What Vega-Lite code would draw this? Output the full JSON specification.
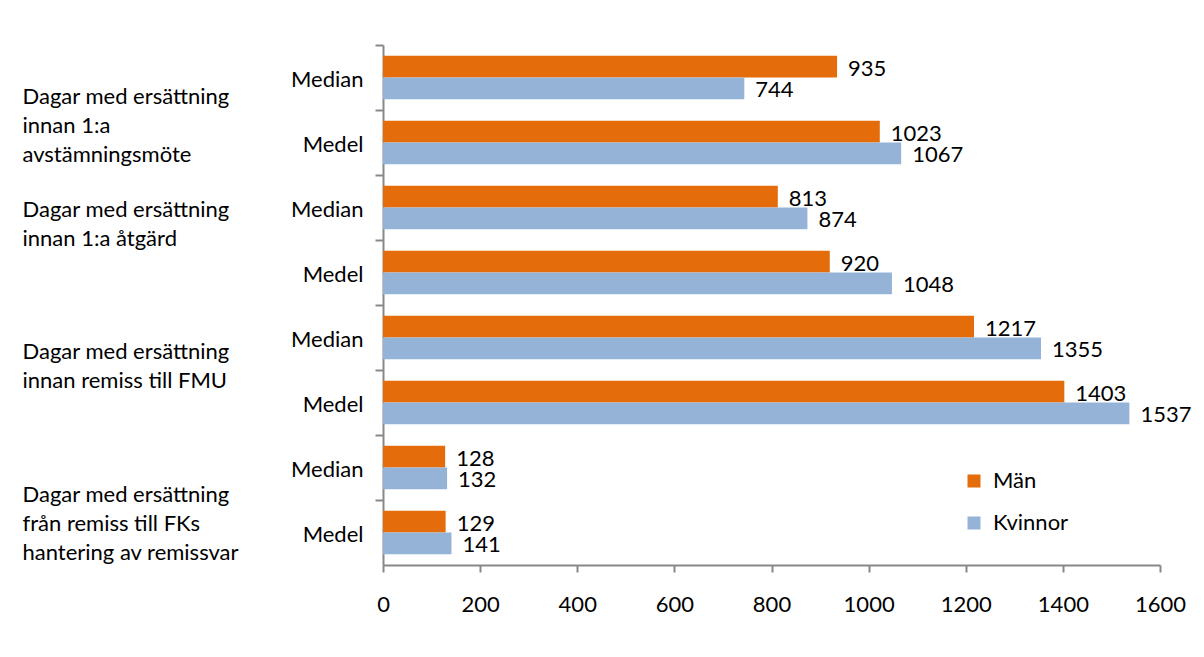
{
  "$schema": "https://vega.github.io/schema/vega-lite/v6.json",
  "width": 777,
  "height": 520,
  "autosize": {"type": "none"},
  "padding": {"left": 383, "top": 45, "right": 44, "bottom": 92},
  "background": "white",
  "config": {
    "view": {"stroke": null},
    "font": "Lato",
    "axis": {"labelFont": "Lato", "labelFontSize": 22, "labelColor": "#000000", "title": null, "grid": false},
    "legend": {
      "orient": "none",
      "legendX": 580,
      "legendY": 425,
      "padding": 0,
      "title": null,
      "symbolType": "square",
      "symbolSize": 169,
      "symbolStrokeWidth": 0,
      "labelFont": "Lato",
      "labelFontSize": 22,
      "labelColor": "#000000",
      "labelOffset": 8,
      "rowPadding": 20
    }
  },
  "data": {
    "values": [
      {"grp": "Dagar med ersättning|innan 1:a|avstämningsmöte", "row": "1 Median", "serie": "Män", "value": 935},
      {"grp": "Dagar med ersättning|innan 1:a|avstämningsmöte", "row": "1 Median", "serie": "Kvinnor", "value": 744},
      {"grp": "Dagar med ersättning|innan 1:a|avstämningsmöte", "row": "2 Medel", "serie": "Män", "value": 1023},
      {"grp": "Dagar med ersättning|innan 1:a|avstämningsmöte", "row": "2 Medel", "serie": "Kvinnor", "value": 1067},
      {"grp": "Dagar med ersättning|innan 1:a åtgärd", "row": "3 Median", "serie": "Män", "value": 813},
      {"grp": "Dagar med ersättning|innan 1:a åtgärd", "row": "3 Median", "serie": "Kvinnor", "value": 874},
      {"grp": "Dagar med ersättning|innan 1:a åtgärd", "row": "4 Medel", "serie": "Män", "value": 920},
      {"grp": "Dagar med ersättning|innan 1:a åtgärd", "row": "4 Medel", "serie": "Kvinnor", "value": 1048},
      {"grp": "Dagar med ersättning|innan remiss till FMU", "row": "5 Median", "serie": "Män", "value": 1217},
      {"grp": "Dagar med ersättning|innan remiss till FMU", "row": "5 Median", "serie": "Kvinnor", "value": 1355},
      {"grp": "Dagar med ersättning|innan remiss till FMU", "row": "6 Medel", "serie": "Män", "value": 1403},
      {"grp": "Dagar med ersättning|innan remiss till FMU", "row": "6 Medel", "serie": "Kvinnor", "value": 1537},
      {"grp": "Dagar med ersättning|från remiss till FKs|hantering av remissvar", "row": "7 Median", "serie": "Män", "value": 128},
      {"grp": "Dagar med ersättning|från remiss till FKs|hantering av remissvar", "row": "7 Median", "serie": "Kvinnor", "value": 132},
      {"grp": "Dagar med ersättning|från remiss till FKs|hantering av remissvar", "row": "8 Medel", "serie": "Män", "value": 129},
      {"grp": "Dagar med ersättning|från remiss till FKs|hantering av remissvar", "row": "8 Medel", "serie": "Kvinnor", "value": 141}
    ]
  },
  "layer": [
    {
      "encoding": {
        "y": {
          "field": "row",
          "type": "nominal",
          "sort": ["1 Median", "2 Medel", "3 Median", "4 Medel", "5 Median", "6 Medel", "7 Median", "8 Medel"],
          "scale": {"paddingInner": 0, "paddingOuter": 0},
          "axis": {
            "orient": "left",
            "bandPosition": 0,
            "labelOffset": 2,
            "labelExpr": "slice(datum.value, 2)",
            "labelPadding": 12,
            "labelLimit": 0,
            "labelOverlap": false,
            "tickSize": 8,
            "tickWidth": 2,
            "tickColor": "#888888",
            "domainColor": "#888888",
            "domainWidth": 2
          }
        },
        "yOffset": {
          "field": "serie",
          "type": "nominal",
          "sort": ["Män", "Kvinnor"],
          "scale": {"paddingInner": 0, "paddingOuter": 0.5}
        },
        "x": {
          "field": "value",
          "type": "quantitative",
          "scale": {"domain": [0, 1600], "nice": false},
          "axis": {
            "values": [0, 200, 400, 600, 800, 1000, 1200, 1400, 1600],
            "format": "d",
            "tickSize": 7,
            "tickWidth": 2,
            "tickColor": "#888888",
            "domainColor": "#888888",
            "domainWidth": 2,
            "labelPadding": 22,
            "labelFlush": false
          }
        }
      },
      "layer": [
        {
          "mark": {"type": "bar"},
          "encoding": {
            "color": {
              "field": "serie",
              "type": "nominal",
              "sort": ["Män", "Kvinnor"],
              "scale": {"domain": ["Män", "Kvinnor"], "range": ["#E46C0A", "#95B3D7"]}
            }
          }
        },
        {
          "mark": {"type": "text", "align": "left", "baseline": "middle", "dx": 11, "dy": 2, "fontSize": 22, "font": "Lato", "color": "#000000"},
          "encoding": {
            "text": {"field": "value", "type": "quantitative", "format": "d"}
          }
        }
      ]
    },
    {
      "mark": {"type": "point", "opacity": 0},
      "encoding": {
        "y": {
          "field": "grp",
          "type": "nominal",
          "sort": [
            "Dagar med ersättning|innan 1:a|avstämningsmöte",
            "Dagar med ersättning|innan 1:a åtgärd",
            "Dagar med ersättning|innan remiss till FMU",
            "Dagar med ersättning|från remiss till FKs|hantering av remissvar"
          ],
          "scale": {"paddingInner": 0, "paddingOuter": 0},
          "axis": {
            "orient": "left",
            "domain": false,
            "ticks": false,
            "tickSize": 0,
            "labelAlign": "left",
            "labelBaseline": "middle",
            "labelPadding": 361,
            "labelLineHeight": 29,
            "labelLimit": 0,
            "labelOverlap": false,
            "labelExpr": "split(datum.value, '|')",
            "labelOffset": {
              "condition": [
                {"test": "indexof(datum.value, 'avstämningsmöte') >= 0", "value": -14},
                {"test": "indexof(datum.value, 'åtgärd') >= 0", "value": -31},
                {"test": "indexof(datum.value, 'FMU') >= 0", "value": -19}
              ],
              "value": -6
            }
          }
        }
      }
    }
  ],
  "resolve": {"scale": {"y": "independent"}}
}
